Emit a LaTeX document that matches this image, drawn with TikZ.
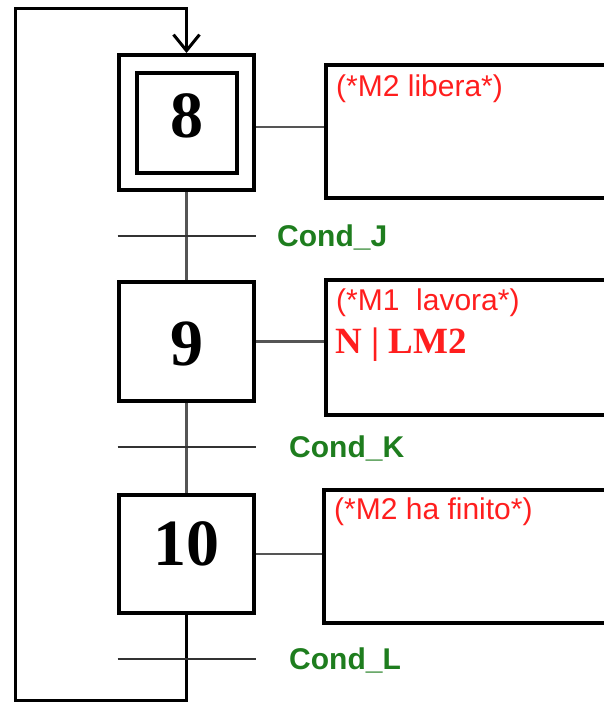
\documentclass[tikz,border=0pt]{standalone}
\usepackage{fontspec}
\usetikzlibrary{arrows.meta}
\newfontfamily\labfont{Liberation Sans}
\newfontfamily\numfont{Liberation Serif}
\definecolor{actred}{RGB}{255,30,30}
\definecolor{condgreen}{RGB}{30,125,30}
\definecolor{linkgray}{RGB}{85,85,85}
\begin{document}
\begin{tikzpicture}[x=1pt,y=-1pt,
  stepbox/.style={draw, line width=4pt, minimum width=135pt, minimum height=119pt, inner sep=0pt},
  numtext/.style={inner sep=0pt, font=\numfont\fontsize{66}{70}\selectfont\bfseries},
  actbox/.style={draw, line width=4pt, minimum width=300pt, inner sep=0pt, anchor=west},
  link/.style={draw=linkgray, line width=2.5pt},
  vline/.style={draw=linkgray, line width=3pt},
  trans/.style={draw=black!80, line width=2.5pt},
  loopline/.style={draw=black, line width=3pt},
  cond/.style={inner sep=0pt, anchor=base west, text=condgreen,
    font=\labfont\fontsize{30}{34}\selectfont\bfseries},
  acttext/.style={inner sep=0pt, anchor=west, text=actred,
    font=\labfont\fontsize{30}{34}\selectfont},
  actbold/.style={inner sep=0pt, anchor=base west, text=actred,
    font=\numfont\fontsize{37}{40}\selectfont\bfseries}]
\useasboundingbox (0,0) rectangle (604,705);
\clip (0,0) rectangle (604,705);

% steps
\node[stepbox, minimum height=135pt] (s8) at (186.5,122.5) {};
\node[stepbox, minimum width=100pt, minimum height=100pt] (s8i) at (s8.center) {};
\node[stepbox] (s9) at (186.5,341.5) {};
\node[stepbox, minimum height=118pt] (s10) at (186.5,554) {};
\node[numtext] (n8) at ([yshift=7pt]s8i.center) {8};
\node[numtext] (n9) at ([yshift=-2pt]s9.center) {9};
\node[numtext] (n10) at ([yshift=10pt]s10.center) {10};

% action boxes
\node[actbox, minimum height=133pt] (a8) at (324,131.5) {};
\node[actbox, minimum height=135pt] (a9) at (324,347.5) {};
\node[actbox, minimum height=133pt] (a10) at (322,556.5) {};

% links step -> action
\draw[link] ([yshift=-4.5pt]s8.east) coordinate (l8) -- (l8 -| a8.west);
\draw[link] (s9.east) -- (s9.east -| a9.west);
\draw[link] (s10.east) -- (s10.east -| a10.west);

% vertical connections
\draw[vline] (s8.south) -- (s9.north);
\draw[vline] (s9.south) -- (s10.north);

% loop back
\coordinate (lb) at (15,700);
\coordinate (lt) at (15,8);
\draw[loopline, -{Straight Barb[length=16pt,width=26pt,line width=3pt]}]
  (s10.south) -- (s10.south |- lb) -- (lb) -- (lt) -- (lt -| s8.north) -- (s8.north);

% transitions
\coordinate (tJ) at (186.5,236);
\coordinate (tK) at (186.5,447);
\coordinate (tL) at (186.5,659);
\draw[trans] ([xshift=-69pt]tJ) -- ([xshift=69pt]tJ);
\draw[trans] ([xshift=-69pt]tK) -- ([xshift=69pt]tK);
\draw[trans] ([xshift=-69pt]tL) -- ([xshift=69pt]tL);
\node[cond] (cJ) at (277,246) {Cond\_J};
\node[cond] (cK) at (289,457) {Cond\_K};
\node[cond] (cL) at (289,669) {Cond\_L};

% action texts
\node[acttext] (c8) at (336,89) {(*M2 libera*)};
\node[acttext] (c9) at (336,303) {(*M1\ \ lavora*)};
\node[actbold] (nl9) at (335,353) {N | LM2};
\node[acttext] (c10) at (334,512) {(*M2 ha finito*)};
\end{tikzpicture}
\end{document}
